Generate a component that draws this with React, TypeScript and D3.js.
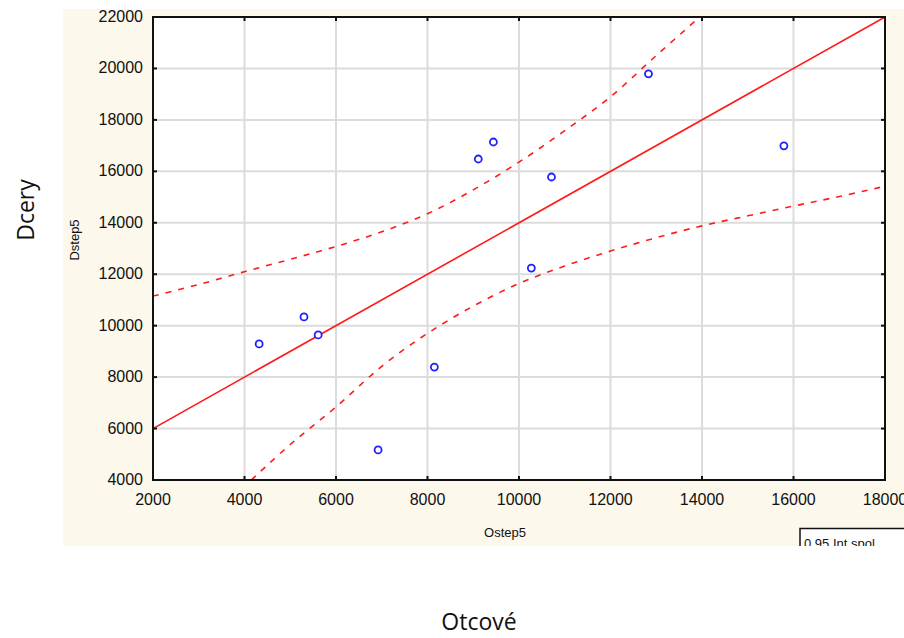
import React from "react";
import { scaleLinear, line, curveCatmullRom, range } from "d3";

// scatter: otcove (x) vs dcery (y)
const otcove = [4320, 5300, 5610, 6920, 8150, 9110, 9440, 10270, 10710, 12830, 15790];
const dcery = [9290, 10340, 9640, 5170, 8390, 16480, 17140, 12240, 15780, 19790, 16990];

// fitted line
const fitX = [2000, 18000];
const fitY = [6000, 22000];

// 0.95 confidence band
const upperX = [2000, 3000, 4000, 5000, 6000, 7000, 8000, 9000, 10000, 11000, 12000, 13000, 13950];
const upperY = [11150, 11600, 12100, 12580, 13080, 13650, 14350, 15280, 16360, 17580, 18900, 20500, 22000];
const lowerX = [4150, 5000, 6000, 7000, 8000, 9000, 10000, 11000, 12000, 13000, 14000, 15000, 16000, 17000, 18000];
const lowerY = [4000, 5380, 6840, 8420, 9700, 10760, 11640, 12320, 12900, 13420, 13880, 14270, 14650, 15020, 15420];

const xTicks = range(2000, 18001, 2000);
const yTicks = range(4000, 22001, 2000);

const W = 904;
const H = 638;
const plot = { left: 153, right: 885, top: 17, bottom: 480 };

export default function App() {
  const x = scaleLinear().domain([2000, 18000]).range([plot.left, plot.right]);
  const y = scaleLinear().domain([4000, 22000]).range([plot.bottom, plot.top]);

  const toPts = (xs: number[], ys: number[]) => xs.map((v, i) => [v, ys[i]] as [number, number]);
  const straight = line<[number, number]>().x((d) => x(d[0])).y((d) => y(d[1]));
  const curved = line<[number, number]>().x((d) => x(d[0])).y((d) => y(d[1])).curve(curveCatmullRom);

  const tickFont = { fontFamily: "Liberation Sans, Arial, sans-serif", fontSize: 16, fill: "#111" };
  const red = "#ff1a1a";

  return (
    <svg width={W} height={H} style={{ position: "absolute", left: 0, top: 0, background: "white" }}>
      <defs>
        <clipPath id="plotClip">
          <rect x={plot.left} y={plot.top} width={plot.right - plot.left} height={plot.bottom - plot.top} />
        </clipPath>
        <clipPath id="panelClip">
          <rect x={63} y={9} width={W - 63} height={537} />
        </clipPath>
      </defs>

      {/* cream panel */}
      <rect x={63} y={9} width={W - 63} height={537} fill="#fdf8ec" />
      <rect x={plot.left} y={plot.top} width={plot.right - plot.left} height={plot.bottom - plot.top} fill="white" />

      {/* grid */}
      <g stroke="#dcdcdc" strokeWidth={2}>
        {xTicks.map((t) => (
          <line key={"gx" + t} x1={x(t)} x2={x(t)} y1={plot.top} y2={plot.bottom} />
        ))}
        {yTicks.map((t) => (
          <line key={"gy" + t} x1={plot.left} x2={plot.right} y1={y(t)} y2={y(t)} />
        ))}
      </g>

      <g clipPath="url(#plotClip)" fill="none">
        <path d={straight(toPts(fitX, fitY)) || ""} stroke={red} strokeWidth={1.6} />
        <path d={curved(toPts(upperX, upperY)) || ""} stroke={red} strokeWidth={1.6} strokeDasharray="6 7" />
        <path d={curved(toPts(lowerX, lowerY)) || ""} stroke={red} strokeWidth={1.6} strokeDasharray="6 7" />
        {otcove.map((v, i) => (
          <circle key={i} cx={x(v)} cy={y(dcery[i])} r={3.5} stroke="#2020ff" strokeWidth={1.8} fill="white" />
        ))}
      </g>

      {/* frame + inside ticks */}
      <rect x={plot.left} y={plot.top} width={plot.right - plot.left} height={plot.bottom - plot.top} fill="none" stroke="#111" strokeWidth={2} />
      <g stroke="#111" strokeWidth={2}>
        {xTicks.map((t) => (
          <g key={"tx" + t}>
            <line x1={x(t)} x2={x(t)} y1={plot.bottom} y2={plot.bottom - 4} />
            <line x1={x(t)} x2={x(t)} y1={plot.top} y2={plot.top + 4} />
          </g>
        ))}
        {yTicks.map((t) => (
          <g key={"ty" + t}>
            <line x1={plot.left} x2={plot.left + 4} y1={y(t)} y2={y(t)} />
            <line x1={plot.right} x2={plot.right - 4} y1={y(t)} y2={y(t)} />
          </g>
        ))}
      </g>

      {/* tick labels */}
      {xTicks.map((t) => (
        <text key={"lx" + t} x={x(t)} y={505} textAnchor="middle" {...tickFont}>
          {t}
        </text>
      ))}
      {yTicks.map((t) => (
        <text key={"ly" + t} x={143} y={y(t) + 5} textAnchor="end" {...tickFont}>
          {t}
        </text>
      ))}

      {/* inner axis titles */}
      <text x={505} y={537} textAnchor="middle" {...tickFont} fontSize={13}>
        Ostep5
      </text>
      <text transform="translate(79,240) rotate(-90)" textAnchor="middle" {...tickFont} fontSize={13}>
        Dstep5
      </text>

      {/* legend box, cut off by panel edge */}
      <g clipPath="url(#panelClip)">
        <rect x={800} y={528.5} width={120} height={30} fill="white" stroke="#111" strokeWidth={1.5} />
        <text x={804} y={548} fontFamily="Liberation Sans, Arial, sans-serif" fontSize={13} fill="#111">
          0.95 Int.spol.
        </text>
      </g>

      {/* outer titles */}
      <text transform="translate(34,210) rotate(-90)" textAnchor="middle" fontFamily="Open Sans, sans-serif" fontSize={23} fill="#111">
        Dcery
      </text>
      <text x={479} y={630} textAnchor="middle" fontFamily="Open Sans, sans-serif" fontSize={23} fill="#111">
        Otcové
      </text>
    </svg>
  );
}
